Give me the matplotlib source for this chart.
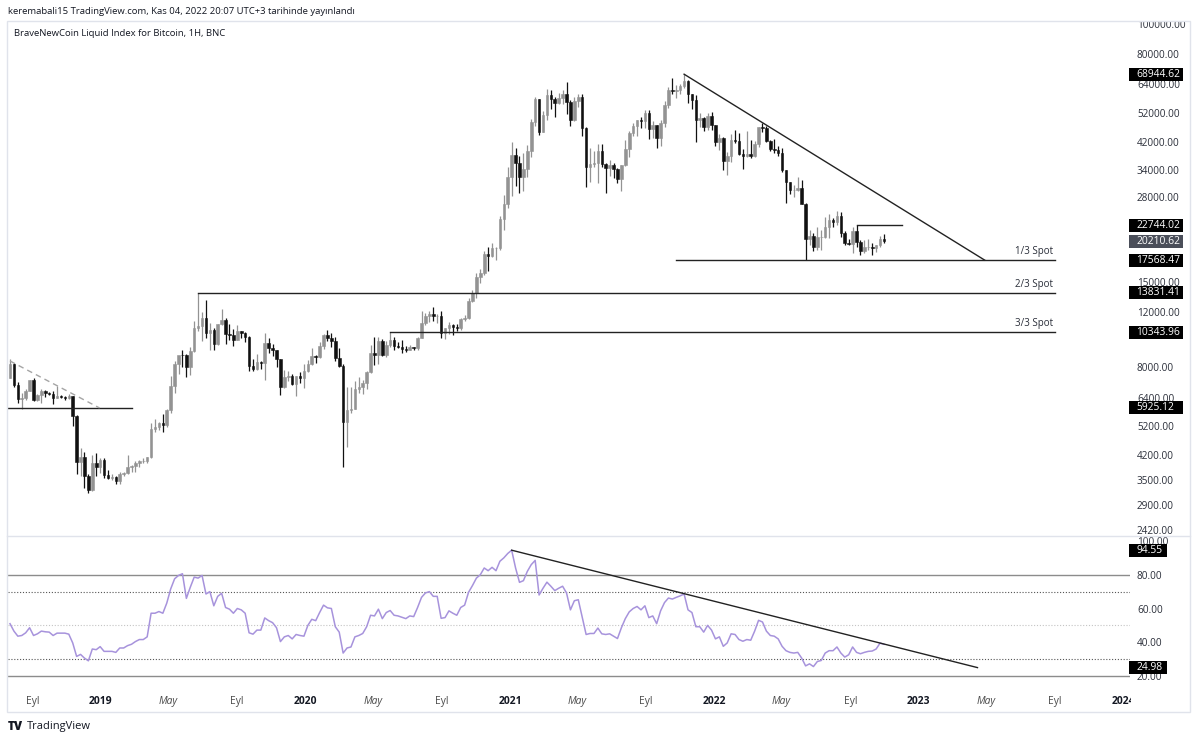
import numpy as np
import pandas as pd
import matplotlib
matplotlib.use("Agg")
import matplotlib.pyplot as plt
import matplotlib.dates as mdates
import matplotlib.transforms as mtransforms
from matplotlib.patches import Rectangle
from matplotlib.lines import Line2D

plt.rcParams['font.family'] = ['Open Sans', 'DejaVu Sans']

##########################
# Data (weekly candles)
##########################

first_week = '2018-07-23'

opens = [7400, 8210, 7030, 6310, 6400, 6710, 7260, 6300, 6500, 6710,
         6600, 6570, 6400, 6470, 6420, 6400, 6450, 5600, 3990, 4140,
         3600, 3250, 3950, 3850, 4050, 3630, 3540, 3580, 3470, 3660,
         3670, 3850, 3860, 3950, 4000, 4020, 4120, 5060, 5150, 5290,
         5210, 5830, 6970, 8200, 8740, 8720, 7990, 8980, 10700, 10800,
         11450, 10250, 10540, 9500, 10970, 11280, 10230, 10140, 9760, 10400,
         10300, 10000, 8050, 7870, 8300, 8220, 9550, 9200, 9050, 8500,
         6900, 7420, 7500, 7060, 7510, 7390, 7760, 8180, 8700, 8600,
         9380, 10170, 9920, 9670, 8540, 8040, 5360, 5830, 5880, 6790,
         6900, 7130, 7700, 8900, 8750, 9670, 8720, 9450, 9760, 9350,
         9300, 9140, 9080, 9250, 9200, 9930, 11050, 11680, 11850, 11650,
         11680, 10250, 10680, 10920, 10770, 10670, 11380, 11500, 13030, 13760,
         15480, 15970, 18400, 18180, 19150, 19170, 23860, 26500, 32300, 38200,
         35800, 32300, 34300, 39250, 48600, 57400, 45200, 50900, 59000, 57400,
         55800, 57900, 59800, 56200, 49100, 56600, 58300, 46400, 34800, 35700,
         35800, 39100, 35500, 34700, 35300, 34300, 31800, 35400, 39900, 44600,
         47100, 49300, 48900, 51800, 46000, 47300, 43200, 48200, 55000, 61500,
         61100, 61300, 63300, 65500, 59700, 57200, 49400, 50100, 46700, 50800,
         47300, 41800, 43100, 36300, 37900, 42400, 42200, 38400, 37700, 38400,
         37800, 41300, 46800, 46400, 42200, 39700, 39500, 38500, 34000, 31300,
         29400, 29450, 29900, 26580, 20500, 21000, 19300, 20800, 20850, 22500,
         23600, 23200, 24300, 21500, 20000, 19800, 21800, 20100, 18800, 19300,
         19400, 19200, 19600, 20600]

highs = [8480, 8270, 7150, 6620, 6800, 7300, 7410, 6580, 6800, 6760,
         6680, 6700, 6950, 6520, 6470, 6560, 6470, 5620, 4400, 4300,
         3650, 4200, 4250, 4100, 4100, 3750, 3650, 3600, 3700, 3700,
         4200, 3900, 4000, 4050, 4100, 4140, 5300, 5450, 5350, 5650,
         5900, 7500, 8350, 8700, 9080, 8800, 9300, 11200, 13831.41, 12000,
         13150, 11100, 10650, 11000, 12300, 11450, 10950, 10600, 10900, 10450,
         10350, 10050, 8500, 8800, 8400, 10300, 9900, 9500, 9100, 8500,
         7850, 7750, 7600, 7500, 7700, 8200, 8450, 9200, 8750, 9600,
         10200, 10500, 10250, 9950, 9200, 8200, 6900, 6900, 7200, 7450,
         7300, 7800, 9450, 10000, 9950, 9850, 9700, 10343.96, 9980, 9600,
         9800, 9350, 9450, 9300, 10000, 12100, 11900, 12100, 12450, 11800,
         12100, 10700, 11180, 10990, 10960, 11500, 11750, 13350, 14100, 15950,
         16500, 18800, 19400, 19900, 19400, 24300, 28400, 34800, 41950, 40100,
         37900, 38500, 40900, 49700, 58300, 57500, 52600, 61700, 61200, 58400,
         60000, 61200, 64900, 57000, 58400, 59600, 59500, 46600, 40000, 39300,
         41300, 41300, 36000, 36600, 35900, 34600, 35400, 42500, 45300, 48100,
         49400, 50500, 52900, 52800, 48800, 47400, 49200, 56600, 62900, 67000,
         63700, 64300, 68944.62, 66300, 59800, 59100, 51900, 50500, 51900, 52100,
         47500, 44500, 43500, 38900, 44500, 45800, 44700, 39800, 45400, 42500,
         42300, 46900, 48200, 47000, 42400, 42900, 40800, 40000, 34200, 31300,
         30600, 32300, 31700, 26800, 21900, 21400, 22500, 22000, 24200, 24600,
         24000, 25200, 25100, 21800, 20600, 22400, 22744.02, 20400, 20400, 20500,
         19900, 19700, 21000, 21300]

lows = [7370, 6900, 6130, 5880, 6290, 6700, 6250, 6230, 6150, 6430,
        6500, 6100, 6390, 6400, 6280, 6330, 5200, 3650, 3600, 3300,
        3180, 3220, 3600, 3680, 3550, 3520, 3500, 3400, 3400, 3600,
        3650, 3700, 3700, 3850, 3950, 3950, 4100, 4950, 5050, 4960,
        5150, 5700, 6600, 7600, 8000, 7450, 7530, 8950, 10400, 9700,
        9900, 9100, 9100, 9400, 10900, 9500, 9800, 9350, 9750, 9900,
        9600, 7800, 7800, 7850, 7900, 7300, 8900, 8700, 8000, 6500,
        6850, 7200, 7000, 6450, 7100, 6880, 7700, 8100, 8250, 8550,
        9150, 9700, 9300, 8400, 8000, 3850, 4450, 5700, 5870, 6600,
        6550, 6800, 7650, 8100, 8200, 8700, 8650, 9300, 9100, 9200,
        8850, 8950, 9050, 9050, 9100, 9900, 10900, 11150, 11250, 11100,
        9900, 9850, 10200, 10150, 10400, 10550, 11200, 11400, 12900, 13300,
        14800, 15800, 16200, 18000, 17600, 19000, 21900, 25800, 28100, 30400,
        28800, 29300, 32300, 37400, 47000, 44000, 45000, 49300, 53300, 50400,
        55400, 55500, 51500, 47000, 48800, 54000, 43800, 30000, 31300, 34900,
        31000, 34800, 28800, 32700, 32100, 31000, 29300, 35200, 37400, 43800,
        43900, 46500, 46500, 42900, 43000, 40000, 40800, 46900, 53900, 59600,
        57800, 59500, 62300, 55600, 53500, 42000, 46800, 45500, 45600, 45700,
        40600, 39600, 34000, 32900, 36200, 41600, 38000, 34300, 37400, 37200,
        37600, 40500, 45200, 41900, 39200, 38600, 37700, 33700, 26700, 28600,
        28000, 29300, 26560, 17568.47, 19700, 18800, 19000, 18900, 20700, 20700,
        22500, 22700, 20800, 19600, 19600, 18500, 19400, 18200, 18500, 19000,
        18200, 18600, 19300, 20000]

closes = [8210, 7030, 6310, 6400, 6710, 7260, 6300, 6500, 6710, 6600,
          6570, 6400, 6470, 6420, 6400, 6450, 5600, 3990, 4140, 3600,
          3250, 3950, 3850, 4050, 3630, 3540, 3580, 3470, 3660, 3670,
          3850, 3860, 3950, 4000, 4020, 4120, 5060, 5150, 5290, 5210,
          5830, 6970, 8200, 8740, 8720, 7990, 8980, 10700, 10800, 11450,
          10250, 10540, 9500, 10970, 11280, 10230, 10140, 9760, 10400, 10300,
          10000, 8050, 7870, 8300, 8220, 9550, 9200, 9050, 8500, 6900,
          7420, 7500, 7060, 7510, 7390, 7760, 8180, 8700, 8600, 9380,
          10170, 9920, 9670, 8540, 8040, 5360, 5830, 5880, 6790, 6900,
          7130, 7700, 8900, 8750, 9670, 8720, 9450, 9760, 9350, 9300,
          9140, 9080, 9250, 9200, 9930, 11050, 11680, 11850, 11650, 11680,
          10250, 10680, 10920, 10770, 10670, 11380, 11500, 13030, 13760, 15480,
          15970, 18400, 18180, 19150, 19170, 23860, 26500, 32300, 38200, 35800,
          32300, 34300, 39250, 48600, 57400, 45200, 50900, 59000, 57400, 55800,
          57900, 59800, 56200, 49100, 56600, 58300, 46400, 34800, 35700, 35800,
          39100, 35500, 34700, 35300, 34300, 31800, 35400, 39900, 44600, 47100,
          49300, 48900, 51800, 46000, 47300, 43200, 48200, 55000, 61500, 61100,
          61300, 63300, 65500, 59700, 57200, 49400, 50100, 46700, 50800, 47300,
          41800, 43100, 36300, 37900, 42400, 42200, 38400, 37700, 38400, 37800,
          41300, 46800, 46400, 42200, 39700, 39500, 38500, 34000, 31300, 29400,
          29450, 29900, 26580, 20500, 21000, 19300, 20800, 20850, 22500, 23600,
          23200, 24300, 21500, 20000, 19800, 21800, 20100, 18800, 19300, 19400,
          19200, 19600, 20600, 20210.62]

rsi = [51, 46.6, 43.6, 44, 45.6, 48.6, 44, 45, 46.6, 46.2,
       46, 44, 45.4, 45.4, 45.4, 44.8, 39.6, 31.6, 32.8, 30.6,
       29, 36, 35.6, 37.4, 34.6, 34.6, 34.6, 34, 36.6, 36.6,
       38, 38.8, 40.4, 41.6, 41.6, 43.2, 57.2, 57.2, 58.2, 57.2,
       63.2, 71.6, 77.6, 79.6, 80.6, 66, 72.6, 78.6, 78, 79.6,
       68.6, 70, 61.6, 67.2, 69, 60.6, 59.6, 57.2, 60, 59.2,
       57.2, 45.6, 44.8, 47.2, 47.2, 54.4, 52.8, 51.6, 48.6, 40.4,
       43.2, 44, 42, 44.6, 44, 43.6, 50, 53.6, 52.8, 57.6,
       62, 60.4, 60, 49.2, 46, 33.6, 36.6, 37.2, 43.2, 44,
       45.2, 49.2, 56, 55.6, 59.6, 54, 57.6, 58.8, 56, 55.6,
       54.8, 54, 55.6, 55.2, 60.6, 66.6, 69.2, 70, 67.2, 67.2,
       54.2, 54.6, 58.6, 57.2, 56, 60.6, 62, 69.6, 73.6, 78,
       80, 84, 82.4, 84.4, 82.4, 88, 90, 92.6, 94.55, 84,
       75.5, 76.5, 82, 86, 88.5, 68, 72, 75.6, 73.2, 70.6,
       72, 73.2, 69.2, 59.2, 64.6, 65.2, 55, 44.6, 45.2, 45.2,
       48.4, 45, 44.6, 45, 43.6, 42.2, 48.6, 54, 58, 60,
       61.2, 59.2, 61.6, 54.6, 55.6, 51, 58.6, 63.5, 66.2, 65.6,
       66.6, 67.5, 68.6, 59.2, 57.6, 49.2, 49.2, 46, 50, 47.2,
       42, 43.2, 37.6, 39.6, 45, 44.6, 41.6, 40.6, 41.6, 41.2,
       46.6, 53, 52, 46.6, 44, 43.6, 42, 37.6, 35, 34,
       33.6, 34, 30.6, 26, 27.2, 25.6, 28.6, 29.2, 33.6, 35,
       35, 37.2, 33.6, 31.2, 32.6, 37.2, 34, 33.2, 34, 34.6,
       34.8, 36, 39.5, 38.8]

# 10000, 18000 and 22000 sit under the price tags, so they are left out
price_ticks = [2420, 2900, 3500, 4200, 5200, 6400, 8000, 12000, 15000,
               28000, 34000, 42000, 52000, 64000, 80000, 100000]
rsi_ticks = [20, 40, 60, 80, 100]

time_ticks = ['2018-09-01', '2019-01-01', '2019-05-01', '2019-09-01',
              '2020-01-01', '2020-05-01', '2020-09-01', '2021-01-01',
              '2021-05-01', '2021-09-01', '2022-01-01', '2022-05-01',
              '2022-09-01', '2023-01-01', '2023-05-01', '2023-09-01',
              '2024-01-01']
time_labels = ['Eyl', '2019', 'May', 'Eyl', '2020', 'May', 'Eyl', '2021',
               'May', 'Eyl', '2022', 'May', 'Eyl', '2023', 'May', 'Eyl',
               '2024']

# drawn objects (levels and trend lines)
peak_date, peak_price = '2021-11-08', 68944.62
trend_end_date = '2023-04-29'
spot_levels = [17568.47, 13831.41, 10343.96]
spot_starts = ['2021-10-25', '2019-06-24', '2020-06-01']
spot_names = ['1/3 Spot', '2/3 Spot', '3/3 Spot']
spot_end = '2023-09-01'
old_low, old_low_end = 5925.12, '2019-02-25'
old_trend = (['2018-07-23', '2018-12-30'], [8370, 5925.12])
range_top, range_dates = 22744.02, ['2022-09-12', '2022-12-03']
last_price = 20210.62
rsi_trend = (['2021-01-04', '2023-04-16'], [94.55, 24.98])

##########################
# Figure
##########################

W, H = 1200, 741


def fx(px):
    return px / W


def fy(py):
    return 1 - py / H


def dt(d):
    return mdates.date2num(pd.Timestamp(d))


fig = plt.figure(figsize=(12, 7.41), dpi=100)
fig.patch.set_facecolor('white')

ax = fig.add_axes([fx(8), fy(535), fx(1130) - fx(8), fy(22) - fy(535)])
ax2 = fig.add_axes([fx(8), fy(685), fx(1130) - fx(8), fy(536) - fy(685)],
                   sharex=ax)

weeks = pd.date_range(first_week, periods=len(closes), freq='7D')
x = mdates.date2num(weeks)
o = np.array(opens, dtype=float)
h = np.array(highs, dtype=float)
l = np.array(lows, dtype=float)
c = np.array(closes, dtype=float)

up = c >= o
col = np.where(up, '#939393', '#111111')

ax.vlines(x, l, h, colors=col, linewidth=0.9, zorder=2)
ax.bar(x, np.abs(c - o), bottom=np.minimum(o, c), width=4.6, color=col,
       edgecolor=col, linewidth=0.4, zorder=3)

ax.set_yscale('log')
ax.set_ylim(2329, 101200)
xmin = mdates.date2num(pd.Timestamp('2018-07-19 10:00'))
ax.set_xlim(xmin, xmin + 2004)

ax.yaxis.tick_right()
ax.yaxis.set_minor_locator(matplotlib.ticker.NullLocator())
ax.set_yticks(price_ticks, labels=['%.2f' % v for v in price_ticks])
ax.tick_params(axis='y', length=0, pad=5, labelsize=7.2,
               labelcolor='#2a2e39')
ax.tick_params(axis='x', length=0, labelbottom=False)
for s in ax.spines.values():
    s.set_visible(False)

# trend line from the top
ax.plot([dt(peak_date), dt(trend_end_date)], [peak_price, spot_levels[0]],
        color='#222222', lw=1, zorder=4)

# spot levels
for lev, start, name in zip(spot_levels, spot_starts, spot_names):
    ax.plot([dt(start), dt(spot_end)], [lev, lev], color='#222222', lw=1,
            zorder=4)
    ax.annotate(name, xy=(dt(spot_end), lev), xytext=(-1.5, 2),
                textcoords='offset points', ha='right', va='bottom',
                fontsize=7, color='#2a2e39')

ax.plot([xmin, dt(old_low_end)], [old_low, old_low], color='#222222', lw=1,
        zorder=4)
ax.plot([dt(d) for d in old_trend[0]], old_trend[1], color='#a5a5a5', lw=1,
        ls=(0, (4, 3)), zorder=4)
ax.plot([dt(d) for d in range_dates], [range_top, range_top],
        color='#222222', lw=1, zorder=4)

##########################
# RSI pane
##########################

ax2.plot(x, rsi, color='#a793dc', lw=1.1, zorder=3)
ax2.axhline(80, color='#8c8c8c', lw=1)
ax2.axhline(20, color='#8c8c8c', lw=1)
ax2.axhline(70, color='#555555', lw=0.8, ls=(0, (1, 1.6)))
ax2.axhline(30, color='#555555', lw=0.8, ls=(0, (1, 1.6)))
ax2.axhline(50, color='#c4c4c4', lw=0.8, ls=(0, (1, 1.6)))
ax2.plot([dt(d) for d in rsi_trend[0]], rsi_trend[1], color='#222222', lw=1,
         zorder=4)

ax2.set_ylim(14.67, 102.96)
ax2.yaxis.tick_right()
ax2.set_yticks(rsi_ticks, labels=['%.2f' % v for v in rsi_ticks])
ax2.tick_params(axis='y', length=0, pad=5, labelsize=7.2,
                labelcolor='#2a2e39')
for s in ax2.spines.values():
    s.set_visible(False)

ax2.set_xticks([dt(d) for d in time_ticks], labels=time_labels)
ax2.tick_params(axis='x', length=0, pad=8, labelsize=7.4)
clip = mtransforms.TransformedBbox(
    mtransforms.Bbox([[0, 0], [fx(1131), 1]]), fig.transFigure)
for lab in ax2.get_xticklabels():
    lab.set_clip_box(clip)
    lab.set_clip_on(True)
    if lab.get_text().isdigit():
        lab.set_fontweight('bold')
        lab.set_color('#131722')
    else:
        lab.set_color('#4a4a4a')
        if lab.get_text() == 'May':
            lab.set_style('italic')

##########################
# Tags on the price scales (fixed width boxes)
##########################

inv = fig.transFigure.inverted()


def tag(axis, val, fc, width):
    yf = inv.transform(axis.transData.transform((xmin, val)))[1]
    fig.add_artist(Rectangle((fx(1129), yf - 6.5 / H), width / W, 13 / H,
                             transform=fig.transFigure, fc=fc, ec='none',
                             zorder=8))
    fig.text(fx(1136.5), yf, '%.2f' % val, fontsize=7.4, color='white',
             va='center', ha='left', zorder=9)


for val, fc in [(peak_price, 'black'), (range_top, 'black'),
                (last_price, '#4a4e59'), (spot_levels[0], 'black'),
                (spot_levels[1], 'black'), (spot_levels[2], 'black'),
                (old_low, 'black')]:
    tag(ax, val, fc, 54)
for val in rsi_trend[1]:
    tag(ax2, val, 'black', 38)

##########################
# Frame and texts
##########################

fig.add_artist(Rectangle((0, fy(21.5)), 1, 1 - fy(21.5),
                         transform=fig.transFigure, fc='white', ec='none',
                         zorder=5))
fig.add_artist(Rectangle((fx(7), fy(712)), fx(1190) - fx(7),
                         fy(21) - fy(712), transform=fig.transFigure,
                         fill=False, ec='#e0e3eb', lw=1, zorder=6))
fig.add_artist(Line2D([fx(7), fx(1190)], [fy(535.5), fy(535.5)],
                      transform=fig.transFigure, color='#e0e3eb', lw=1,
                      zorder=6))

fig.text(fx(8), fy(12), 'keremabali15 TradingView.com, Kas 04, 2022 20:07 '
         'UTC+3 tarihinde yayınlandı', fontsize=6.8, va='center',
         color='#131722', zorder=7)
fig.text(fx(14), fy(33), 'BraveNewCoin Liquid Index for Bitcoin, 1H, BNC',
         fontsize=6.8, va='center', color='#131722', zorder=7)
fig.text(fx(8), fy(727), 'TV', fontsize=8.5, fontweight='heavy',
         va='center', color='#131722')
fig.text(fx(27), fy(727), 'TradingView', fontsize=8, va='center',
         color='#131722')

fig.savefig('out.png', dpi=100, facecolor='white')
plt.close()
